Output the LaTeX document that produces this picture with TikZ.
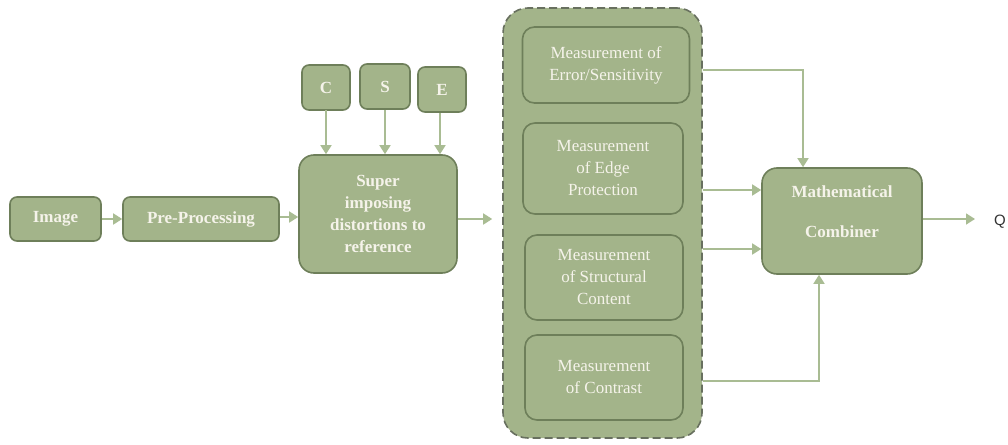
\documentclass[tikz,border=0pt]{standalone}
\usepackage{fontspec}
\setmainfont{Liberation Serif}
\newfontfamily\labelsans{Liberation Sans}
\usetikzlibrary{arrows.meta,calc}
\definecolor{sage}{HTML}{A3B48A}
\definecolor{sageedge}{HTML}{6E7F5A}
\definecolor{sagearrow}{HTML}{A9BC93}
\definecolor{dashedge}{HTML}{68705F}
\definecolor{boxtext}{HTML}{F5F3EA}
\begin{document}
\begin{tikzpicture}[x=1pt,y=-1pt,
  blk/.style={draw=sageedge, fill=sage, line width=1.6pt, rounded corners=7pt,
    text=boxtext, font=\bfseries\fontsize{17}{22}\selectfont, align=center, inner sep=0pt},
  meas/.style={blk, font=\fontsize{17}{22}\selectfont, rounded corners=12pt},
  flow/.style={draw=sagearrow, line width=1.6pt, -{Triangle[length=9pt,width=11pt]}},
  link/.style={draw=sagearrow, line width=1.6pt}]
\useasboundingbox (0,0) rectangle (1008,444);

% input chain
\node[blk, minimum width=91, minimum height=44] (img) at (55.5,219) {Image};
\node[blk, minimum width=156, minimum height=44] (pre) at (201,219) {Pre-Processing};
\node[blk, minimum width=158, minimum height=118, rounded corners=15pt] (sup) at (378,214)
  {Super\\imposing\\distortions to\\reference};

% distortion parameters
\node[blk, minimum width=48, minimum height=45] (c) at (326,87.5) {C};
\node[blk, minimum width=50, minimum height=45] (s) at (385,86.5) {S};
\node[blk, minimum width=48, minimum height=45] (e) at (442,89.5) {E};

% group of measurements
\node[draw=dashedge, fill=sage, line width=1.6pt, dash pattern=on 8pt off 4pt,
  rounded corners=25pt, minimum width=199, minimum height=430] (grp) at (602.5,223) {};
\node[meas, minimum width=167, minimum height=76] (err) at (606,65) {Measurement of\\Error/Sensitivity};
\node[meas, minimum width=160, minimum height=91] (edge) at (603,168.5) {Measurement\\of Edge\\Protection};
\node[meas, minimum width=158, minimum height=85] (struct) at (604,277.5) {Measurement\\of Structural\\Content};
\node[meas, minimum width=158, minimum height=85] (contr) at (604,377.5) {Measurement\\of Contrast};

% combiner and output
\node[blk, minimum width=160, minimum height=106, rounded corners=15pt, text depth=18pt] (comb) at (842,221)
  {Mathematical\\[18pt]Combiner};
\node[anchor=west, inner sep=0pt, text=black!80, font=\labelsans\fontsize{15}{17}\selectfont] (q) at (994,222) {Q};

% connectors
\draw[flow] (img) -- (pre);
\draw[flow] (pre.east |- 0,217) -- (sup.west |- 0,217);
\draw[flow] (c.south |- 0,110) -- (c.south |- sup.north) ;
\draw[flow] (s) -- (s |- sup.north);
\draw[flow] (e.south -| 440,0) -- (sup.north -| 440,0);
\draw[flow] (sup.east |- 0,219) -- ($(grp.west |- 0,219)+(-10,0)$);

\coordinate (o1) at (grp.east |- 0,70);
\coordinate (o2) at (grp.east |- 0,190);
\coordinate (o3) at (grp.east |- 0,249);
\coordinate (o4) at (grp.east |- 0,381);
\draw[flow] (o1) -| ($(comb.north)+(-39,0)$);
\draw[flow] (o2) -- (comb.west |- o2);
\draw[flow] (o3) -- (comb.west |- o3);
\draw[flow] (o4) -| ($(comb.south)+(-23,0)$);
\draw[flow, shorten >=19pt] (comb.east |- 0,219) -- (q.west |- 0,219);
\end{tikzpicture}
\end{document}
